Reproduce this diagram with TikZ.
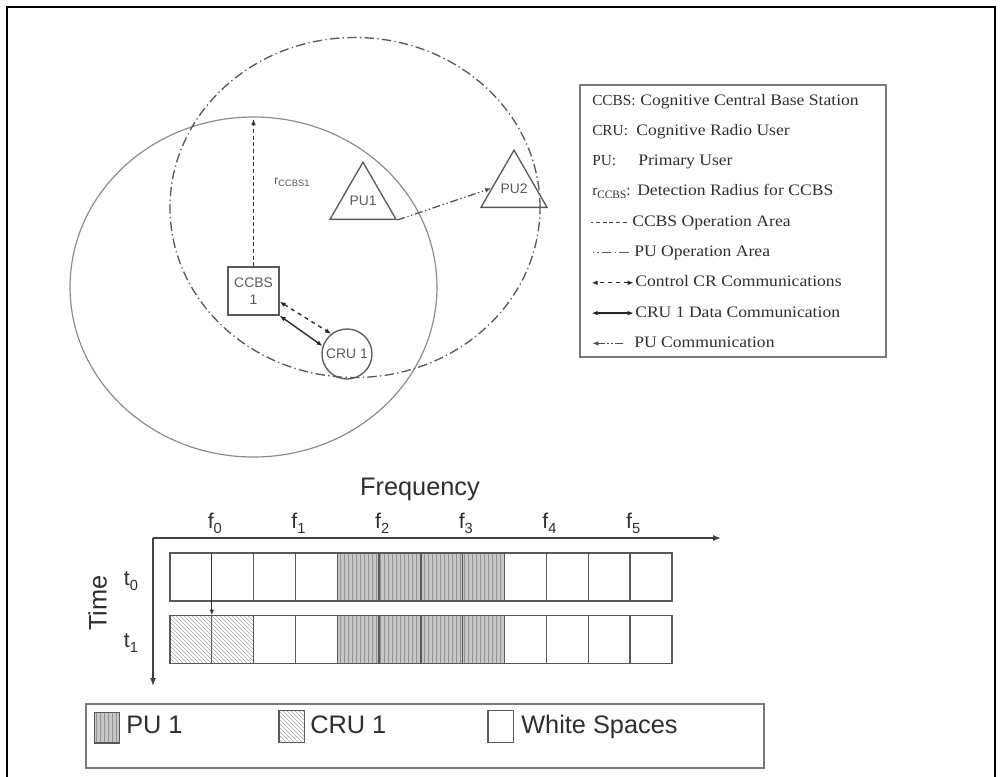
\documentclass[tikz,border=0pt]{standalone}
\usepackage{fontspec}
\setmainfont{Liberation Serif}
\setsansfont{Liberation Sans}
\newfontfamily\legendfont{Liberation Serif}[FakeStretch=1.1]
\usepackage{tikz}
\usetikzlibrary{arrows.meta,positioning,shapes.geometric,patterns}
\definecolor{AreaGray}{HTML}{8C8C8C}
\definecolor{BoxGray}{HTML}{7A7A7A}
\definecolor{LabelInk}{HTML}{5A5A5A}
\definecolor{KeyInk}{HTML}{2E2E2E}
\newcommand{\lowsub}[1]{\raisebox{-0.5ex}{\fontsize{11}{11}\selectfont#1}}

\begin{document}
\begin{tikzpicture}[x=0.75pt, y=-0.75pt,
  sitebox/.style={draw=LabelInk, line width=1pt, minimum width=38.25pt,
               minimum height=36pt, inner sep=0pt, align=center,
               font=\sffamily\fontsize{10.4}{12.5}\selectfont, text=LabelInk},
  putri/.style={draw=LabelInk, line width=1pt, regular polygon,
               regular polygon sides=3, minimum size=44pt, inner sep=0pt,
               font=\sffamily\fontsize{10.4}{12}\selectfont, text=LabelInk},
  userdisc/.style={draw=LabelInk, line width=1pt, circle, minimum size=37.5pt,
               inner sep=0pt, font=\sffamily\fontsize{10.4}{12}\selectfont, text=LabelInk},
  datalink/.style={{Latex[length=4.5pt,width=3.5pt]}-{Latex[length=4.5pt,width=3.5pt]},
               line width=1pt, draw=black!85},
  ctrllink/.style={datalink, dashed},
  pulink/.style={-{Latex[length=4.5pt,width=3.5pt]}, line width=0.9pt, draw=black!70,
               dash pattern=on 6pt off 2pt on 1pt off 2pt on 1pt off 2pt},
  rlink/.style={-{Latex[length=4.5pt,width=3.5pt]}, line width=0.8pt, draw=black!80,
               densely dashed},
  ccbsarea/.style={draw=AreaGray, line width=0.9pt},
  puarea/.style={draw=black!65, line width=1pt, dash pattern=on 7pt off 2.5pt on 1pt off 2.5pt},
  keytext/.style={font=\rmfamily\fontsize{11.5}{14}\selectfont, text=KeyInk, inner sep=0pt},
  desctext/.style={font=\legendfont\fontsize{12}{14}\selectfont, text=KeyInk, inner sep=0pt},
  bigtext/.style={font=\sffamily\fontsize{19}{22}\selectfont, text=KeyInk, inner sep=0pt},
  idxtext/.style={font=\sffamily\fontsize{16}{18}\selectfont, text=KeyInk, inner sep=0pt},
  slot/.style={draw=black!65, line width=1pt, minimum width=31.37pt, minimum height=36pt,
               inner sep=0pt, outer sep=0pt},
  pufill/.style={preaction={fill=gray!45}, pattern=vertical lines, pattern color=gray!85},
  crufill/.style={pattern=north west lines, pattern color=gray!70},
  swatch/.style={draw=black!65, line width=1pt, minimum width=19pt, minimum height=24pt,
               inner sep=0pt},
  axisline/.style={-{Latex[length=6pt,width=4.5pt]}, line width=1pt, draw=black!75}
]
\useasboundingbox (0,0) rectangle (1001,776);
\draw[line width=2.2pt] (7,780) -- (7,7) -- (995,7) -- (995,780);

% operation areas
\draw[ccbsarea] (253.5,287) ellipse [x radius=137.6pt, y radius=127.5pt];
\draw[puarea] (355,207.5) ellipse [x radius=138.75pt, y radius=127.5pt];

% stations and users
\node[sitebox] (ccbs) at (253.5,291) {CCBS\\1};
\node[putri] (pu1) at (363,200.3) {PU1};
\node[putri] (pu2) at (514,188.3) {PU2};
\node[userdisc] (cru) at (347,354) {CRU 1};
\node[font=\sffamily\fontsize{9}{9}\selectfont, text=LabelInk, inner sep=0pt] (rlabel)
  at (292,182) {r\raisebox{-0.3ex}{\fontsize{7}{7}\selectfont CCBS1}};
\coordinate (rtop) at (253.5,119);

\draw[rlink] (ccbs.north) -- (rtop);
\draw[pulink] (pu1.corner 3) -- (pu2.west);
\draw[ctrllink] ([yshift=-8pt]ccbs.east) -- (cru.128);
\draw[datalink] (ccbs.south east) -- (cru.162);

% legend
\node[draw=BoxGray, line width=1pt, minimum width=229.5pt, minimum height=204pt,
  inner sep=0pt] (legend) at (733,221) {};
\node[keytext, anchor=base west] (k1) at (592,105) {CCBS:};
\node[desctext, anchor=base west] (d1) at (640,105) {Cognitive Central Base Station};
\node[keytext, anchor=base west] (k2) at (592,135.3) {CRU:};
\node[desctext, anchor=base west] (d2) at (636,135.3) {Cognitive Radio User};
\node[keytext, anchor=base west] (k3) at (592,165.6) {PU:};
\node[desctext, anchor=base west] (d3) at (638,165.6) {Primary User};
\node[keytext, anchor=base west] (k4) at (592,195.9)
  {r\raisebox{-0.4ex}{\fontsize{8.5}{9}\selectfont CCBS}:};
\node[desctext, anchor=base west] (d4) at (637,195.9) {Detection Radius for CCBS};
\node[desctext, anchor=base west] (d5) at (632,226.2) {CCBS Operation Area};
\node[desctext, anchor=base west] (d6) at (634,256.5) {PU Operation Area};
\node[desctext, anchor=base west] (d7) at (635,286.8) {Control CR Communications};
\node[desctext, anchor=base west] (d8) at (635,317.1) {CRU 1 Data Communication};
\node[desctext, anchor=base west] (d9) at (634,347.4) {PU Communication};
\draw[draw=black!75, line width=0.8pt, densely dashed]
  ([xshift=-4pt,yshift=3pt]d5.base west) -- ++(-36,0);
\draw[puarea, line width=0.8pt] ([xshift=-4pt,yshift=3pt]d6.base west) -- ++(-36,0);
\draw[ctrllink] ([xshift=-1pt,yshift=3pt]d7.base west) -- ++(-42,0);
\draw[datalink] ([xshift=-1pt,yshift=3pt]d8.base west) -- ++(-42,0);
\draw[pulink] ([xshift=-8pt,yshift=3pt]d9.base west) -- ++(-31,0);

% spectrum grid
\node[bigtext, anchor=base] (freqlbl) at (420,495) {Frequency};
\node[bigtext, rotate=90] (timelbl) at (97.5,603) {Time};
\coordinate (origin) at (153,538);
\coordinate (fend) at (721,538);
\coordinate (tend) at (153,686);
\draw[axisline] (origin) -- (fend);
\draw[axisline] (origin) -- (tend);
\foreach \k in {0,...,5}
  \node[idxtext, anchor=base] (f\k) at ({170+41.83*(2*\k+1)+3},528) {f\lowsub{\k}};
\node[idxtext, anchor=base] (t0) at (131,585) {t\lowsub{0}};
\node[idxtext, anchor=base] (t1) at (131,647) {t\lowsub{1}};
\foreach \r/\ry in {0/577,1/639.5}
  \foreach \c in {0,...,11}
    \node[slot] (r\r c\c) at ({170+41.83*(\c+0.5)},\ry) {};
\foreach \r in {0,1}
  \foreach \c in {4,...,7}
    \node[slot, pufill] (pu\r c\c) at (r\r c\c) {};
\foreach \c in {0,1}
  \node[slot, crufill] (cru1c\c) at (r1c\c) {};
\draw[-{Latex[length=4.5pt,width=3.5pt]}, line width=0.9pt, draw=black!80]
  (r0c0.north east) -- (r1c0.north east);

% key
\node[draw=BoxGray, line width=1pt, minimum width=508.5pt, minimum height=48pt,
  inner sep=0pt] (keybox) at (425,736) {};
\node[swatch, pufill, minimum height=23pt] (kpuswatch) at (107,727.5) {};
\node[bigtext, anchor=base west] (kpu) at (126,733) {PU 1};
\node[swatch, crufill] (kcruswatch) at (291.5,726.5) {};
\node[bigtext, anchor=base west] (kcru) at (310,733) {CRU 1};
\node[swatch] (kwhiteswatch) at (500.5,726.5) {};
\node[bigtext, anchor=base west] (kwhite) at (521,733) {White Spaces};
\end{tikzpicture}
\end{document}
